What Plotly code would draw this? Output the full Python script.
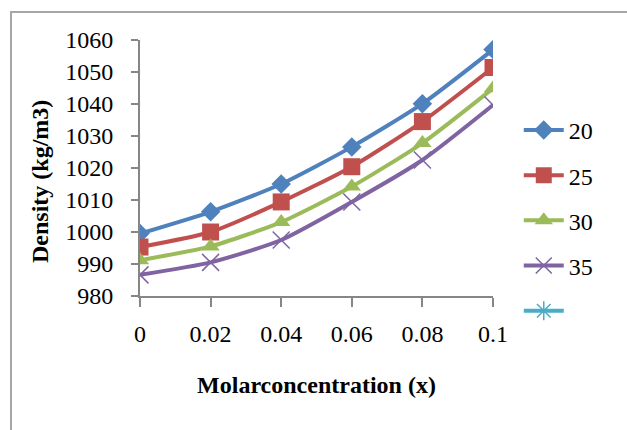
import plotly.graph_objects as go

x_values = [0, 0.02, 0.04, 0.06, 0.08, 0.1]
x_tick_text = ["0", "0.02", "0.04", "0.06", "0.08", "0.1"]
series_names = ["20", "25", "30", "35", ""]
density_20 = [999.5, 1006.3, 1015.0, 1026.6, 1040.1, 1057.0]
density_25 = [995.3, 1000.0, 1009.4, 1020.4, 1034.5, 1051.4]
density_30 = [991.2, 995.5, 1003.1, 1014.2, 1027.8, 1044.9]
density_35 = [986.6, 990.5, 997.5, 1009.4, 1022.5, 1039.7]
y_ticks = [980, 990, 1000, 1010, 1020, 1030, 1040, 1050, 1060]

colors = ["#4F81BD", "#C0504D", "#9BBB59", "#8064A2", "#4BACC6"]
symbols = ["diamond", "square", "triangle-up", "x-thin-open", "asterisk-open"]
msizes = [15, 17, 16, 17, 17]

fig = go.Figure()
all_series = [density_20, density_25, density_30, density_35, None]
for i, (name, ys) in enumerate(zip(series_names, all_series)):
    if ys is None:
        xs, yv = [None], [None]
    else:
        xs, yv = x_values, ys
    marker = dict(symbol=symbols[i], size=msizes[i], color=colors[i])
    if symbols[i].endswith("open"):
        marker["line"] = dict(width=1.5, color=colors[i] if i == 4 else "#9C88C0")
    fig.add_trace(go.Scatter(
        x=xs, y=yv, name=name, mode="lines+markers",
        line=dict(color=colors[i], width=4, shape="spline", smoothing=0.6),
        marker=marker, legendgroup=f"g{i}", showlegend=True,
    ))

fig.add_shape(type="rect", xref="paper", yref="paper",
              x0=(11 - 140) / 353, x1=(700 - 140) / 353,
              y0=(296 - 500) / 256, y1=(296 - 12) / 256,
              line=dict(color="#A6A6A6", width=2), fillcolor="rgba(0,0,0,0)",
              layer="below")

tick_font = dict(family="Liberation Serif", size=24, color="#000000")
title_font = dict(family="Liberation Serif", size=24, color="#000000")

fig.add_annotation(
    text="<b>Density (kg/m3)</b>", textangle=-90, font=title_font,
    xref="paper", yref="paper", x=(40 - 140) / 353, y=(296 - 182) / 256,
    xanchor="center", yanchor="middle", showarrow=False,
)

fig.update_layout(
    width=627, height=430,
    margin=dict(l=140, r=134, t=40, b=134),
    paper_bgcolor="white", plot_bgcolor="white",
    font=tick_font,
    showlegend=True,
    legend=dict(x=1.073, y=0.735, xanchor="left", yanchor="top",
                traceorder="grouped", tracegroupgap=11,
                font=dict(family="Liberation Serif", size=24, color="#000000"),
                bgcolor="rgba(0,0,0,0)", itemwidth=40),
    xaxis=dict(
        range=[0, 0.1], tickvals=x_values, ticktext=x_tick_text,
        showgrid=False, zeroline=False, showline=True,
        linecolor="#868686", linewidth=2,
        ticks="outside", ticklen=9, tickcolor="#868686", tickwidth=2,
        ticklabelstandoff=6, tickfont=tick_font,
        title=dict(text="<b>Molarconcentration (x)</b>", font=title_font, standoff=30),
    ),
    yaxis=dict(
        range=[980, 1060], tickvals=y_ticks,
        showgrid=False, zeroline=False, showline=True,
        linecolor="#868686", linewidth=2,
        ticks="outside", ticklen=7, tickcolor="#868686", tickwidth=2,
        ticklabelstandoff=13, tickfont=tick_font,
    ),
)

fig.write_html("out.html")
